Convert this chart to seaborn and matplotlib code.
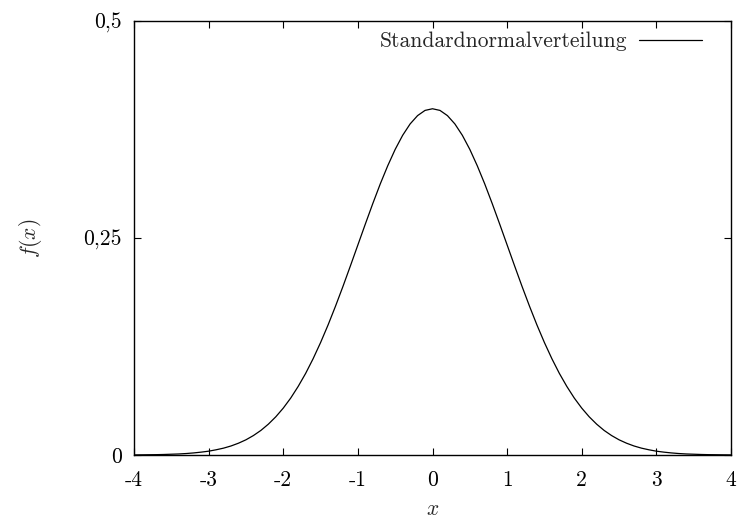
import matplotlib
matplotlib.use("Agg")
import matplotlib.pyplot as plt
import seaborn as sns

# Density of the standard normal distribution, tabulated at steps of 0.1
x_vals = [round(-4 + 0.1 * i, 1) for i in range(81)]
half = [0.3989, 0.3970, 0.3910, 0.3814, 0.3683, 0.3521, 0.3332, 0.3123, 0.2897, 0.2661,
        0.2420, 0.2179, 0.1942, 0.1714, 0.1497, 0.1295, 0.1109, 0.0940, 0.0790, 0.0656,
        0.0540, 0.0440, 0.0355, 0.0283, 0.0224, 0.0175, 0.0136, 0.0104, 0.0079, 0.0060,
        0.0044, 0.0033, 0.0024, 0.0017, 0.0012, 0.0009, 0.0006, 0.0004, 0.0003, 0.0002,
        0.0001]
f_vals = half[::-1] + half[1:]

x_ticks = [-4, -3, -2, -1, 0, 1, 2, 3, 4]
x_ticklabels = ["-4", "-3", "-2", "-1", "0", "1", "2", "3", "4"]
y_ticks = [0, 0.25, 0.5]
y_ticklabels = ["0", "0,25", "0,5"]
series_name = "Standardnormalverteilung"

sns.set_style("ticks")
plt.rcParams["font.family"] = ["cmr10", "DejaVu Serif"]
plt.rcParams["mathtext.fontset"] = "cm"
plt.rcParams["axes.unicode_minus"] = False
plt.rcParams["axes.formatter.use_mathtext"] = True

FS = 15.5

fig = plt.figure(figsize=(7.42, 5.20), dpi=100)
ax = fig.add_axes([134 / 742, 1 - 455 / 520, (731 - 134) / 742, (455 - 21) / 520])

sns.lineplot(x=x_vals, y=f_vals, ax=ax, color="black", linewidth=0.9, label=series_name)

ax.set_xlim(-4, 4)
ax.set_ylim(0, 0.5)
ax.set_xticks(x_ticks)
ax.set_xticklabels(x_ticklabels)
ax.set_yticks(y_ticks)
ax.set_yticklabels(y_ticklabels)
ax.tick_params(direction="in", top=True, right=True, length=5, width=0.8,
               labelsize=FS, colors="black")
ax.tick_params(axis="x", pad=11)
ax.tick_params(axis="y", pad=9)
for s in ax.spines.values():
    s.set_linewidth(1.0)
    s.set_color("black")
    s.set_visible(True)

ax.set_xlabel(r"$x$", fontsize=FS, labelpad=7)
ax.set_ylabel(r"$f(x)$", fontsize=FS, labelpad=28)

leg = ax.legend(loc="upper right", frameon=False, markerfirst=False, fontsize=FS,
                handlelength=2.9, handletextpad=0.55, borderaxespad=0.1,
                bbox_to_anchor=(0.969, 1.0))

fig.savefig("out.png", dpi=100)
